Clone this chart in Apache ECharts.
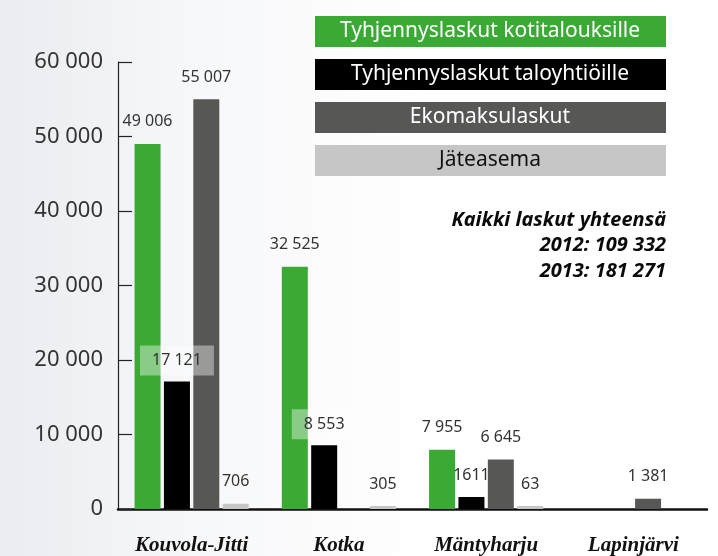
<!DOCTYPE html>
<html>
<head>
<meta charset="utf-8">
<script src="https://cdn.jsdelivr.net/npm/echarts@6/dist/echarts.min.js"></script>
<style>
  html, body { margin: 0; padding: 0; }
  #chart { width: 718px; height: 556px; }
</style>
</head>
<body>
<div id="chart"></div>
<script>
// data
const kunnat = ['Kouvola-Jitti', 'Kotka', 'Mäntyharju', 'Lapinjärvi']
const kotitaloudet = [49006, 32525, 7955, null]
const taloyhtiot = [17121, 8553, 1611, null]
const ekomaksut = [55007, null, 6645, 1381]
const jateasema = [706, 305, 63, null]
const yTicks = [0, 10000, 20000, 30000, 40000, 50000, 60000]
const sarjat = ['Tyhjennyslaskut kotitalouksille', 'Tyhjennyslaskut taloyhtiöille', 'Ekomaksulaskut', 'Jäteasema']
const yhteensa = ['Kaikki laskut yhteensä', '2012: 109 332', '2013: 181 271']

const colors = ['#3aaa35', '#000000', '#575756', '#c6c6c6']
const legendText = ['#ffffff', '#ffffff', '#ffffff', '#111111']

function fmt(v) {
    return String(v).replace(/\B(?=(\d{3})+(?!\d))/g, ' ')
}

const chart = echarts.init(document.getElementById('chart'))

const labelBase = {
    show: true,
    position: 'top',
    distance: 14,
    fontFamily: 'Noto Sans',
    fontSize: 16,
    color: '#333'
}

function makeSeries(name, values, color, extra) {
    return {
        name: name,
        type: 'bar',
        barWidth: 26,
        barGap: '13%',
        itemStyle: { color: color },
        label: Object.assign({}, labelBase, { formatter: p => fmt(p.value) }),
        data: values.map((v, i) => extra ? extra(v, i) : v),
        ...(name === sarjat[3] ? { barMinHeight: 3 } : {})
    }
}

// boxed labels on the black bars of the two first towns, 1611 printed without space
const taloData = (v, i) => {
    if (v == null) return v
    if (i < 2) {
        return {
            value: v,
            label: {
                distance: 6,
                padding: [7, 12],
                backgroundColor: 'rgba(255,255,255,0.4)',
                formatter: fmt(v)
            }
        }
    }
    return { value: v, label: { formatter: String(v) } }
}

const legendGraphics = []
sarjat.forEach((s, i) => {
    legendGraphics.push({
        type: 'rect',
        left: 315,
        top: 16 + i * 43,
        shape: { width: 351, height: 31 },
        style: { fill: colors[i] }
    })
    legendGraphics.push({
        type: 'text',
        x: 490,
        y: 31.5 + i * 43,
        style: {
            text: s,
            fill: legendText[i],
            font: '21px "Noto Sans"',
            align: 'center',
            verticalAlign: 'middle'
        }
    })
})
yhteensa.forEach((t, i) => {
    legendGraphics.push({
        type: 'text',
        x: 666,
        y: 220 + i * 25.5,
        style: {
            text: t,
            fill: '#0a0a0a',
            font: 'italic bold 20px "Noto Sans"',
            align: 'right',
            verticalAlign: 'middle'
        }
    })
})

chart.setOption({
    animation: false,
    backgroundColor: new echarts.graphic.LinearGradient(0, 0, 1, 0, [
        { offset: 0, color: '#eaecf1' },
        { offset: 0.25, color: '#f6f7f9' },
        { offset: 0.6, color: '#ffffff' },
        { offset: 1, color: '#ffffff' }
    ]),
    grid: {
        left: 118,
        right: 11,
        top: 62,
        bottom: 46,
        containLabel: false
    },
    xAxis: {
        type: 'category',
        data: kunnat,
        axisLine: { lineStyle: { color: '#111', width: 2.5 } },
        axisTick: { inside: true, length: 10, lineStyle: { color: '#111', width: 2.5 } },
        axisLabel: {
            margin: 26,
            fontFamily: 'Liberation Serif',
            fontStyle: 'italic',
            fontWeight: 'bold',
            fontSize: 21,
            color: '#111'
        }
    },
    yAxis: {
        type: 'value',
        min: yTicks[0],
        max: yTicks[yTicks.length - 1],
        interval: yTicks[1] - yTicks[0],
        axisLine: { show: true, lineStyle: { color: '#222', width: 1.2 } },
        axisTick: { show: true, inside: true, length: 14, lineStyle: { color: '#222', width: 1.2 } },
        splitLine: { show: false },
        axisLabel: {
            margin: 15,
            fontFamily: 'Noto Sans',
            fontSize: 22,
            color: '#333',
            formatter: v => fmt(v)
        }
    },
    series: [
        makeSeries(sarjat[0], kotitaloudet, colors[0]),
        makeSeries(sarjat[1], taloyhtiot, colors[1], taloData),
        makeSeries(sarjat[2], ekomaksut, colors[2]),
        makeSeries(sarjat[3], jateasema, colors[3])
    ],
    graphic: legendGraphics
})
</script>
</body>
</html>
